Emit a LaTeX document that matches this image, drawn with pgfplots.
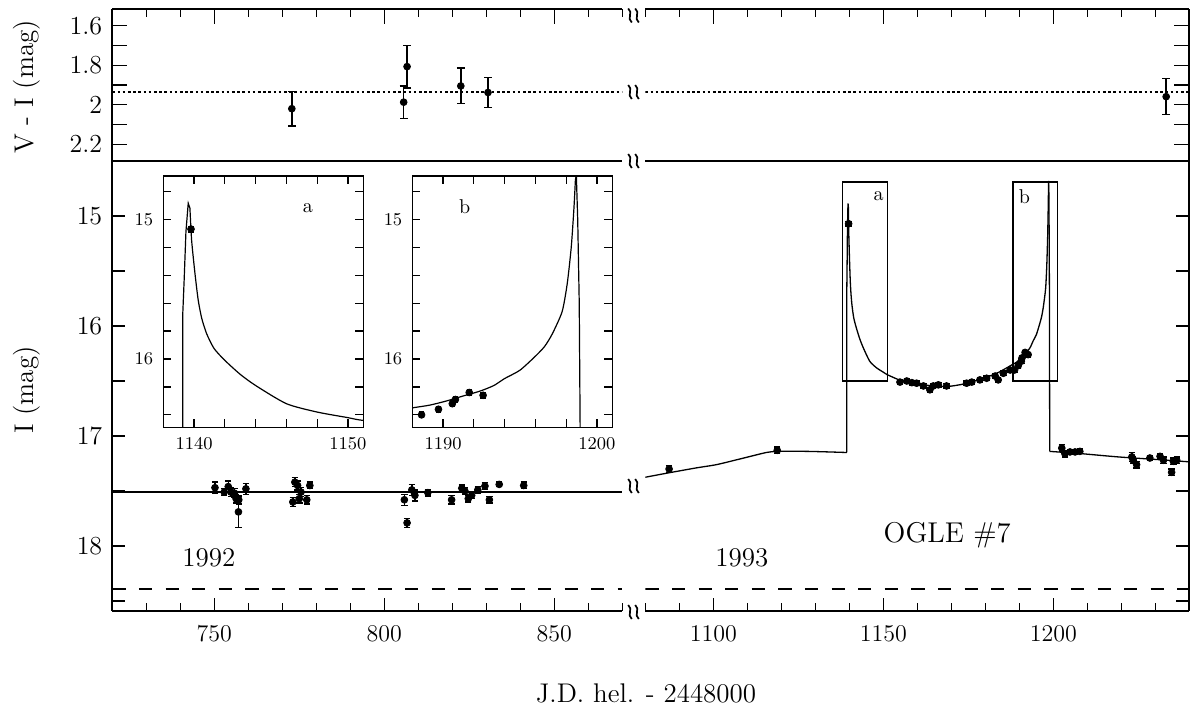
\documentclass[border=0pt]{standalone}
\usepackage{pgfplots}
\pgfplotsset{compat=1.18}
\usepackage{pgfplotstable}

% V - I colour, season 1992 and 1993
\pgfplotstableread{
x y e
772.8 2.020 0.088
805.7 1.987 0.082
806.7 1.807 0.108
822.5 1.905 0.090
830.5 1.938 0.075
}\vileft
\pgfplotstableread{
x y e
1233.2 1.959 0.091
}\viright

% I photometry, 1992
\pgfplotstableread{
x y e
750.2 17.470 0.05
752.9 17.510 0.03
754.1 17.460 0.05
754.9 17.510 0.04
755.9 17.520 0.04
756.4 17.570 0.04
757.2 17.580 0.04
757.1 17.690 0.14
759.3 17.480 0.05
773.1 17.600 0.04
773.7 17.420 0.04
774.5 17.450 0.04
775.5 17.510 0.04
775.0 17.570 0.04
777.2 17.580 0.04
778.1 17.450 0.03
805.9 17.580 0.05
806.7 17.790 0.04
808.1 17.490 0.05
809.0 17.540 0.05
812.8 17.515 0.03
819.8 17.580 0.04
822.8 17.475 0.03
823.7 17.500 0.03
824.7 17.570 0.03
825.7 17.540 0.03
827.5 17.490 0.03
829.6 17.455 0.03
830.9 17.580 0.03
833.8 17.440 0.02
841.0 17.450 0.03
}\ileft

% I photometry, 1993
\pgfplotstableread{
x y e
1087.0 17.300 0.03
1118.8 17.130 0.03
1139.8 15.070 0.02
1154.9 16.510 0.02
1156.9 16.500 0.02
1158.4 16.515 0.02
1159.8 16.520 0.02
1161.8 16.545 0.02
1163.7 16.580 0.02
1164.7 16.545 0.02
1166.2 16.535 0.02
1168.6 16.545 0.02
1174.5 16.520 0.02
1176.0 16.510 0.02
1178.4 16.490 0.02
1180.4 16.475 0.02
1182.9 16.455 0.02
1183.8 16.490 0.02
1185.3 16.430 0.02
1187.3 16.400 0.02
1188.6 16.400 0.02
1189.7 16.360 0.02
1190.6 16.320 0.02
1190.8 16.290 0.02
1191.7 16.240 0.02
1192.6 16.260 0.02
1202.5 17.110 0.03
1203.4 17.160 0.03
1204.9 17.145 0.02
1206.4 17.145 0.02
1207.8 17.140 0.02
1223.1 17.190 0.04
1223.5 17.220 0.03
1224.5 17.260 0.03
1228.4 17.200 0.02
1231.4 17.185 0.02
1232.4 17.220 0.03
1234.8 17.330 0.03
1235.3 17.230 0.03
1236.3 17.220 0.03
}\iright

% binary-lens model light curve, 1993, in five pieces:
% slow rise, caustic entry, the part inside the caustic, caustic exit, tail
\pgfplotstableread{
x m
1080.0 17.375
1086.0 17.340
1095.0 17.290
1101.0 17.260
1109.0 17.200
1115.6 17.150
1119.0 17.140
1128.0 17.140
1139.26 17.150
}\modelA
\pgfplotstableread{
x m
1139.26 17.150
1139.26 15.690
1139.36 15.420
1139.47 15.090
1139.62 14.885
1139.73 14.920
}\modelB
\pgfplotstableread{
x m
1139.73 14.920
1139.84 15.150
1140.06 15.390
1140.27 15.580
1140.50 15.710
1140.82 15.820
1141.30 15.925
1142.00 16.010
1143.00 16.110
1144.00 16.190
1146.00 16.320
1148.00 16.380
1150.00 16.420
1151.00 16.440
1155.50 16.500
1160.40 16.530
1165.00 16.545
1169.00 16.550
1174.00 16.525
1180.00 16.470
1184.00 16.420
1188.00 16.350
1189.15 16.330
1190.24 16.300
1191.30 16.265
1192.40 16.230
1193.30 16.190
1194.00 16.140
1195.00 16.080
1196.00 15.980
1196.60 15.910
1197.10 15.820
1197.74 15.660
1198.07 15.460
1198.33 15.200
1198.50 14.930
1198.60 14.720
}\modelC
\pgfplotstableread{
x m
1198.60 14.720
1198.66 14.680
1198.75 15.000
1198.85 15.600
1198.95 17.140
}\modelD
\pgfplotstableread{
x m
1198.95 17.140
1208.0 17.160
1219.0 17.190
1231.0 17.215
1240.0 17.235
}\modelE

\pgfplotsset{
  mainpanel/.style={
    scale only axis, anchor=south west,
    axis line style={draw=none},
    tick style={black, line width=0.7pt},
    major tick length=7.5pt, minor tick length=3.8pt,
    tick label style={font=\fontsize{13}{15}\selectfont},
    /pgf/number format/1000 sep={},
    y dir=reverse,
  },
  pts/.style={only marks, mark=*, mark size=1.7pt, black,
    error bars/.cd, y dir=both, y explicit,
    error bar style={line width=0.7pt, black},
    error mark options={rotate=90, mark size=#1, line width=0.7pt}},
  pts/.default=1.6pt,
  inset/.style={
    scale only axis, anchor=south west, width=100pt, height=125.65pt,
    y dir=reverse, ymin=14.69, ymax=16.489,
    axis line style={line width=0.75pt},
    tick style={black, line width=0.6pt},
    major tick length=4pt, minor tick length=4pt,
    tick label style={font=\fontsize{9.5}{11}\selectfont},
    /pgf/number format/1000 sep={},
    ytick={15,16}, minor ytick={14.8,15.2,15.4,15.6,15.8,16.2,16.4},
    xticklabel shift=2pt, yticklabel shift=1.5pt,
  },
}

% the model drawn piece by piece; sharp at the caustic crossings
\newcommand\drawmodel[1]{%
  \addplot[line width=#1, smooth, tension=0.4] table[x=x, y=m] {\modelA};
  \addplot[line width=#1] table[x=x, y=m] {\modelB};
  \addplot[line width=#1, smooth, tension=0.4] table[x=x, y=m] {\modelC};
  \addplot[line width=#1] table[x=x, y=m] {\modelD};
  \addplot[line width=#1, smooth, tension=0.4] table[x=x, y=m] {\modelE};
}

% axis-break sign
\newcommand\brk[2]{%
  \draw[line width=0.85pt] (#1-1.8,#2-7) .. controls (#1+3.6,#2-3) and (#1-3.6,#2+3) .. (#1+1.8,#2+7);}

\begin{document}
\begin{tikzpicture}
\path[use as bounding box] (0,0) rectangle (595.5pt,358pt);

% ---- colour panel, 1992
\begin{axis}[mainpanel, at={(56.15pt,277.65pt)}, width=255pt, height=75.7pt,
  xmin=720, xmax=870, ymin=1.517, ymax=2.283,
  xtick={750,800,850}, minor xtick={720,730,...,870}, xticklabels={}, xtick pos=right,
  ytick={1.6,1.7,1.8,1.9,2.0,2.1,2.2}, yticklabels={1.6,,1.8,,2,,2.2}, ytick pos=left,
  yticklabel shift=1.5pt]
  \addplot[line width=0.6pt, dash pattern=on 1.3pt off 1.3pt] coordinates {(720,1.935) (870,1.935)};
  \addplot[pts=2pt] table[x=x, y=y, y error=e] {\vileft};
\end{axis}

% ---- colour panel, 1993
\begin{axis}[mainpanel, at={(322.65pt,277.65pt)}, width=272pt, height=75.7pt,
  xmin=1080, xmax=1240, ymin=1.517, ymax=2.283,
  xtick={1100,1150,1200}, minor xtick={1080,1090,...,1240}, xticklabels={}, xtick pos=right,
  ytick={1.6,1.7,1.8,1.9,2.0,2.1,2.2}, yticklabels={}, ytick pos=right]
  \addplot[line width=0.6pt, dash pattern=on 1.3pt off 1.3pt] coordinates {(1080,1.935) (1240,1.935)};
  \addplot[pts=2pt] table[x=x, y=y, y error=e] {\viright};
\end{axis}

% ---- I light curve, 1992
\begin{axis}[mainpanel, at={(56.15pt,52.5pt)}, width=255pt, height=225.15pt,
  xmin=720, xmax=870, ymin=14.497, ymax=18.591,
  xtick={750,800,850}, minor xtick={720,730,...,870}, xtick pos=left,
  major tick length=6.5pt,
  ytick={15,15.5,16,16.5,17,17.5,18,18.5}, yticklabels={15,,16,,17,,18,}, ytick pos=left,
  xticklabel shift=4pt, yticklabel shift=1.5pt]
  \addplot[line width=0.8pt] coordinates {(720,17.51) (870,17.51)};
  \addplot[line width=0.8pt, dash pattern=on 6.6pt off 6.7pt] coordinates {(720,18.39) (870,18.39)};
  \addplot[pts] table[x=x, y=y, y error=e] {\ileft};
  \node[font=\fontsize{13.5}{16}\selectfont] at (axis cs:748.4,18.11) {1992};
\end{axis}

% ---- I light curve, 1993
\begin{axis}[mainpanel, at={(322.65pt,52.5pt)}, width=272pt, height=225.15pt,
  xmin=1080, xmax=1240, ymin=14.497, ymax=18.591,
  xtick={1100,1150,1200}, minor xtick={1080,1090,...,1240}, xtick pos=left,
  major tick length=6.5pt,
  ytick={15,15.5,16,16.5,17,17.5,18,18.5}, yticklabels={}, ytick pos=right,
  xticklabel shift=4pt]
  \addplot[line width=0.8pt, dash pattern=on 6.6pt off 6.7pt] coordinates {(1080,18.39) (1240,18.39)};
  \drawmodel{0.65pt}
  \addplot[pts] table[x=x, y=y, y error=e] {\iright};
  \draw[line width=0.7pt] (axis cs:1138,14.69) rectangle (axis cs:1151.3,16.50);
  \draw[line width=0.7pt] (axis cs:1188.2,14.69) rectangle (axis cs:1201.2,16.50);
  \node[font=\fontsize{10}{12}\selectfont] at (axis cs:1148.6,14.82) {a};
  \node[font=\fontsize{10}{12}\selectfont] at (axis cs:1191.5,14.82) {b};
  \node[font=\fontsize{14.3}{17}\selectfont] at (axis cs:1168.8,17.90) {OGLE \#7};
  \node[font=\fontsize{13.5}{16}\selectfont] at (axis cs:1108.4,18.11) {1993};
\end{axis}

% ---- inset a: first caustic crossing
\begin{axis}[inset, at={(81.65pt,144.35pt)},
  xmin=1138, xmax=1151, xtick={1140,1150}, minor xtick={1142,1144,1146,1148}]
  \drawmodel{0.6pt}
  \addplot[pts=1.3pt] table[x=x, y=y, y error=e] {\iright};
  \node[font=\fontsize{10}{12}\selectfont] at (axis cs:1147.4,14.92) {a};
\end{axis}

% ---- inset b: second caustic crossing
\begin{axis}[inset, at={(206.15pt,144.35pt)},
  xmin=1188, xmax=1201, xtick={1190,1200}, minor xtick={1192,1194,1196,1198}]
  \drawmodel{0.6pt}
  \addplot[pts=1.3pt] table[x=x, y=y, y error=e] {\iright};
  \node[font=\fontsize{10}{12}\selectfont] at (axis cs:1191.4,14.91) {b};
\end{axis}

% ---- frame with the broken time axis
\begin{scope}[shift={(0,358pt)}, x=0.5pt, y=-0.5pt]
  \draw[line width=1pt] (112.3,9.3) -- (112.3,611);
  \draw[line width=1pt] (1189.3,9.3) -- (1189.3,611);
  \foreach \yy in {9.3,160.7,611} {
    \draw[line width=1pt] (112.3,\yy) -- (622.3,\yy);
    \draw[line width=1pt] (645.3,\yy) -- (1189.3,\yy);
  }
  \foreach \yy in {15.5,92,161,486,612} {
    \brk{630}{\yy}
    \brk{637}{\yy}
  }
  \node[font=\fontsize{13.5}{16}\selectfont, rotate=90] at (27,87) {V - I (mag)};
  \node[font=\fontsize{13.5}{16}\selectfont, rotate=90] at (27,390) {I (mag)};
  \node[font=\fontsize{13.5}{16}\selectfont] at (646,693) {J.D. hel. - 2448000};
\end{scope}
\end{tikzpicture}
\end{document}
